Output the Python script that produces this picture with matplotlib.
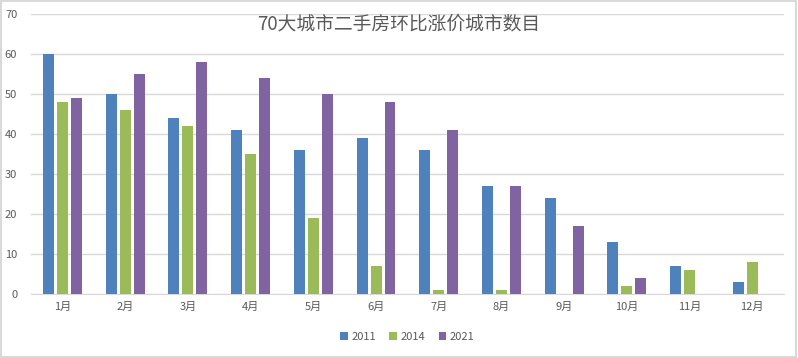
import numpy as np
from matplotlib import pyplot as plt

plt.rcParams['font.family'] = ['Noto Sans CJK SC', 'DejaVu Sans']

months = ['1月', '2月', '3月', '4月', '5月', '6月', '7月', '8月', '9月', '10月', '11月', '12月']
v2011 = [60, 50, 44, 41, 36, 39, 36, 27, 24, 13, 7, 3]
v2014 = [48, 46, 42, 35, 19, 7, 1, 1, 0, 2, 6, 8]
v2021 = [49, 55, 58, 54, 50, 48, 41, 27, 17, 4, 0, 0]

fig = plt.figure(figsize=(7.98, 3.58), dpi=100)
ax = fig.add_axes([0.039, 0.179, 0.943, 0.782])

x = np.arange(len(months))
w = 0.175
step = 0.223
ax.bar(x - step, v2011, w, color='#4F81BD', label='2011', zorder=3)
ax.bar(x, v2014, w, color='#9BBB59', label='2014', zorder=3)
ax.bar(x + step, v2021, w, color='#8064A2', label='2021', zorder=3)

ax.set_xlim(-0.5, 11.5)
ax.set_ylim(0, 70)
ax.set_yticks(range(0, 71, 10))
ax.set_xticks(x)
ax.set_xticklabels(months)
ax.yaxis.grid(True, color='#D9D9D9', linewidth=1, zorder=0)
for s in ['top', 'right', 'left']:
    ax.spines[s].set_visible(False)
ax.spines['bottom'].set_color('#D9D9D9')
ax.tick_params(axis='both', length=0, labelsize=8, colors='#595959', pad=6)
ax.tick_params(axis='y', pad=10)

fig.text(0.5, 0.932, '70大城市二手房环比涨价城市数目', ha='center', va='center',
         fontsize=13.5, color='#595959')

ax.legend(loc='upper center', bbox_to_anchor=(0.5, -0.1), ncol=3, frameon=False,
          fontsize=8, handlelength=0.7, handleheight=0.7, handletextpad=0.3,
          columnspacing=1.2, labelcolor='#595959')

# 外边框
fig.patches.append(plt.Rectangle((0.001, 0.002), 0.997, 0.995, transform=fig.transFigure,
                                 fill=False, edgecolor='#D9D9D9', linewidth=1.5))

fig.savefig('out.png', dpi=100)
